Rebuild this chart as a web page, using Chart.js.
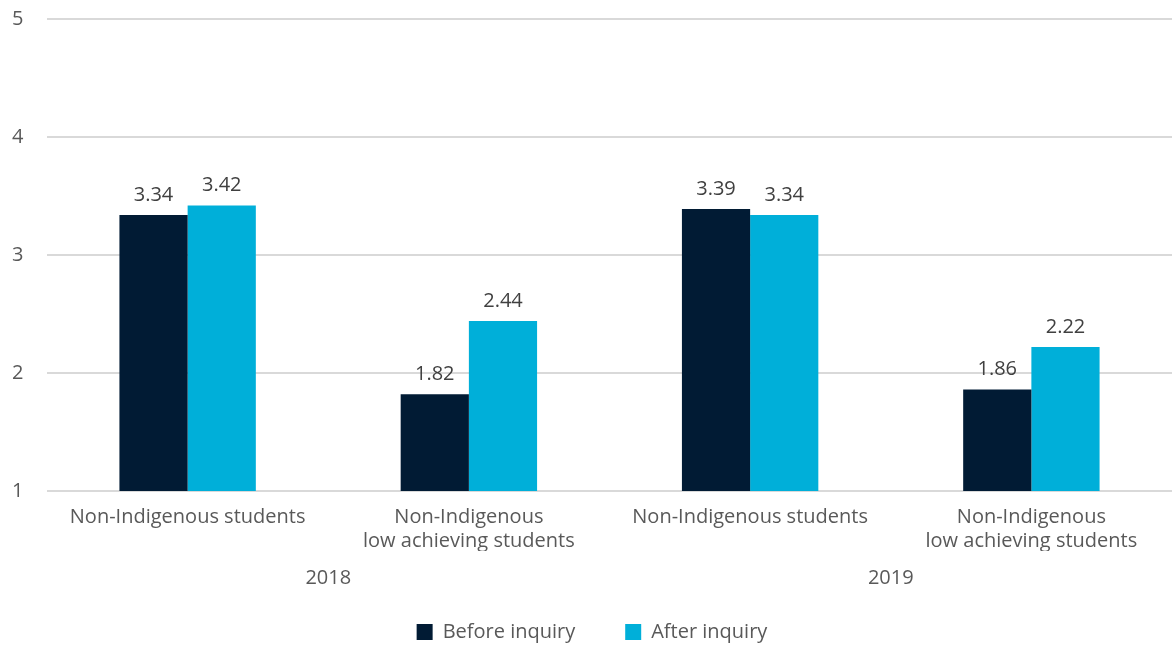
<!DOCTYPE html>
<html>
<head>
<meta charset="utf-8">
<script src="https://cdn.jsdelivr.net/npm/chart.js@4/dist/chart.umd.min.js"></script>
<style>
  html, body { margin: 0; padding: 0; background: #fff; }
  #wrap { width: 1172px; height: 646px; }
</style>
</head>
<body>
<div id="wrap"><canvas id="bars"></canvas></div>
<script>
const categories = [
  "Non-Indigenous students",
  ["Non-Indigenous", "low achieving students"],
  "Non-Indigenous students",
  ["Non-Indigenous", "low achieving students"]
];
const years = ["2018", "2019"];
const beforeInquiry = [3.34, 1.82, 3.39, 1.86];
const afterInquiry = [3.42, 2.44, 3.34, 2.22];

const fontFamily = "'Open Sans', 'Noto Sans', sans-serif";
const textGrey = "#595959";

// draws the value above every bar
const valueLabels = {
  id: "valueLabels",
  afterDatasetsDraw(chart) {
    const c = chart.ctx;
    c.save();
    c.font = "20px " + fontFamily;
    c.fillStyle = "#404040";
    c.textAlign = "center";
    c.textBaseline = "middle";
    chart.data.datasets.forEach((ds, i) => {
      chart.getDatasetMeta(i).data.forEach((bar, j) => {
        c.fillText(ds.data[j].toFixed(2), bar.x, bar.y - 20);
      });
    });
    c.restore();
  }
};

const ctx = document.getElementById("bars");

new Chart(ctx, {
  type: "bar",
  data: {
    labels: categories,
    datasets: [
      { label: "Before inquiry", data: beforeInquiry, backgroundColor: "#011b34" },
      { label: "After inquiry", data: afterInquiry, backgroundColor: "#00afd9" }
    ]
  },
  options: {
    responsive: true,
    maintainAspectRatio: false,
    animation: false,
    layout: { padding: { top: 19, right: 0, left: 12, bottom: 0 } },
    datasets: {
      bar: { categoryPercentage: 0.485, barPercentage: 1.0 }
    },
    scales: {
      y: {
        min: 1,
        max: 5,
        ticks: { stepSize: 1, padding: 0, crossAlign: "far", color: textGrey, font: { family: fontFamily, size: 20 } },
        grid: { color: "#d9d9d9", lineWidth: 2, drawTicks: false },
        border: { display: false },
        afterFit(scale) { scale.width = 35; }
      },
      x: {
        grid: { display: false, drawTicks: false },
        border: { display: false },
        ticks: { padding: 14, maxRotation: 0, autoSkip: false, color: textGrey, font: { family: fontFamily, size: 20 } },
        afterFit(scale) { scale.height = 60; }
      },
      x2: {
        type: "category",
        labels: years,
        position: "bottom",
        grid: { display: false, drawTicks: false },
        border: { display: false },
        // mirrored so the year row is not clipped to this thin box
        ticks: { mirror: true, padding: -39, color: textGrey, font: { family: fontFamily, size: 20 } },
        afterFit(scale) { scale.height = 21; }
      }
    },
    plugins: {
      legend: {
        position: "bottom",
        maxHeight: 74,
        labels: {
          boxWidth: 16,
          boxHeight: 16,
          padding: 50,
          color: textGrey,
          font: { family: fontFamily, size: 20 }
        }
      },
      tooltip: { enabled: false }
    }
  },
  plugins: [valueLabels]
});
</script>
</body>
</html>
